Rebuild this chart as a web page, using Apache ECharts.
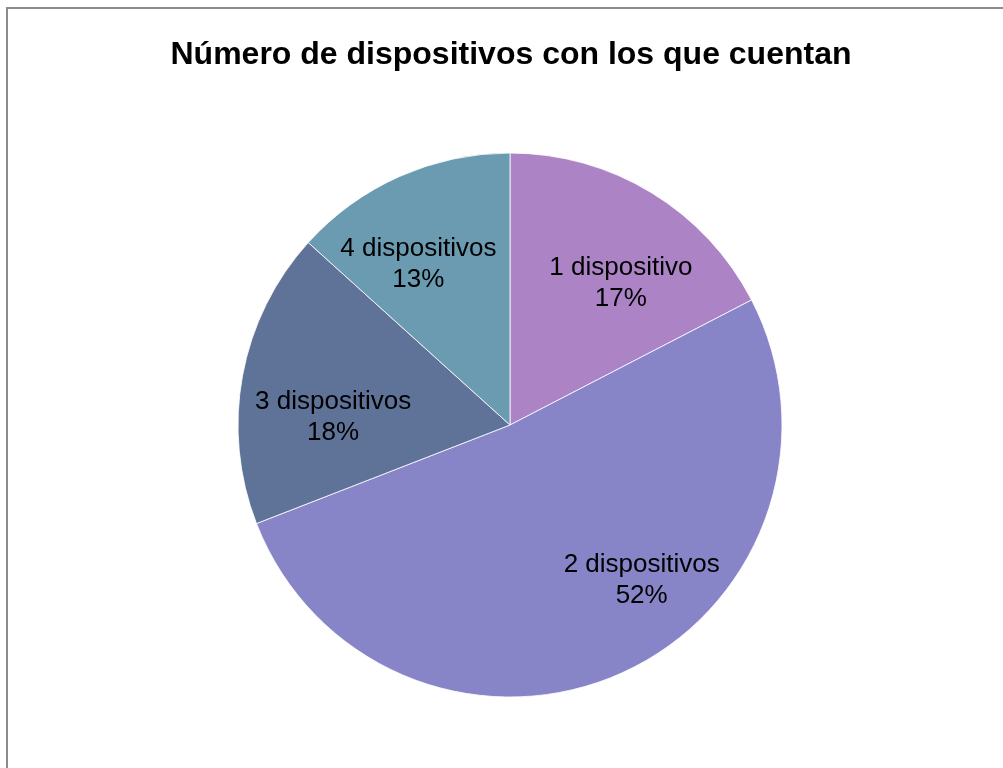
<!DOCTYPE html>
<html>
<head>
<meta charset="utf-8">
<script src="https://cdn.jsdelivr.net/npm/echarts@6/dist/echarts.min.js"></script>
<style>
html,body{margin:0;padding:0;background:#fff;}
#chart{width:1003px;height:768px;}
</style>
</head>
<body>
<div id="chart"></div>
<script>
const titleText = 'Número de dispositivos con los que cuentan';
const categories = ['1 dispositivo', '2 dispositivos', '3 dispositivos', '4 dispositivos'];
const values = [17.4, 51.7, 17.6, 13.3];
const colors = ['#AC84C6', '#8785C7', '#5F7399', '#6B9BB1'];
// label placement: [angle from 12 o'clock clockwise (deg), distance as fraction of radius]
const labelPolar = [[38, 0.662], [139.8, 0.75], [272.6, 0.651], [330.3, 0.68]];

const CX = 510, CY = 425, R = 272;

const chart = echarts.init(document.getElementById('chart'), null, {renderer: 'canvas'});
chart.setOption({
  backgroundColor: '#fff',
  animation: false,
  title: {
    text: titleText,
    left: 506,
    top: 34,
    textAlign: 'center',
    textStyle: {fontFamily: 'Liberation Sans, Arial, sans-serif', fontWeight: 'bold', fontSize: 32, color: '#000'}
  },
  graphic: [{
    type: 'rect',
    shape: {x: 7, y: 8, width: 1100, height: 900},
    style: {fill: 'none', stroke: '#8c8c8c', lineWidth: 2},
    silent: true
  }],
  series: [{
    type: 'pie',
    center: [CX, CY],
    radius: [0, R],
    startAngle: 90,
    clockwise: true,
    avoidLabelOverlap: false,
    itemStyle: {borderColor: '#ffffff', borderWidth: 0.8},
    label: {
      show: true,
      position: 'inside',
      formatter: '{b}\n{d}%',
      fontFamily: 'Liberation Sans, Arial, sans-serif',
      fontSize: 26,
      lineHeight: 31,
      color: '#000',
      align: 'center',
      verticalAlign: 'middle'
    },
    percentPrecision: 0,
    labelLine: {show: false},
    labelLayout: function (p) {
      const lp = labelPolar[p.dataIndex];
      const a = lp[0] * Math.PI / 180;
      return {x: CX + Math.sin(a) * R * lp[1], y: CY - Math.cos(a) * R * lp[1], align: 'center', verticalAlign: 'middle'};
    },
    data: categories.map((c, i) => ({name: c, value: values[i], itemStyle: {color: colors[i]}}))
  }]
});
</script>
</body>
</html>
